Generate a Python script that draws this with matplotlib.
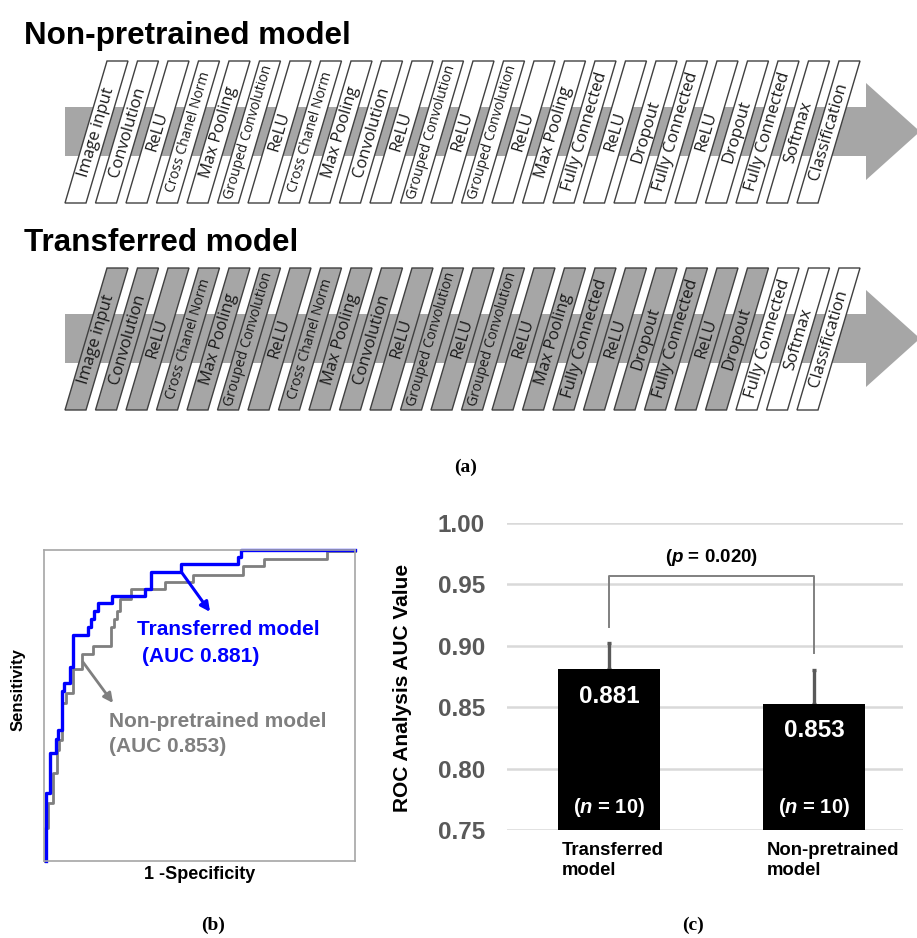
import matplotlib.pyplot as plt
from matplotlib.patches import Polygon, Rectangle

plt.rcParams['font.family'] = 'Liberation Sans'
plt.rcParams['mathtext.fontset'] = 'custom'
plt.rcParams['mathtext.it'] = 'Liberation Sans:italic:bold'
plt.rcParams['mathtext.rm'] = 'Liberation Sans:bold'

# --- data ---
layers = ['Image input', 'Convolution', 'ReLU', 'Cross Chanel Norm', 'Max Pooling',
          'Grouped Convolution', 'ReLU', 'Cross Chanel Norm', 'Max Pooling', 'Convolution',
          'ReLU', 'Grouped Convolution', 'ReLU', 'Grouped Convolution', 'ReLU',
          'Max Pooling', 'Fully Connected', 'ReLU', 'Dropout', 'Fully Connected',
          'ReLU', 'Dropout', 'Fully Connected', 'Softmax', 'Classification']
n_transferred = 22  # layers copied from the pretrained net (gray)

# ROC step curves (1 - specificity, sensitivity)
blue_fpr = [0.006, 0.006, 0.019, 0.037, 0.046, 0.057, 0.064, 0.083, 0.094, 0.142,
            0.150, 0.160, 0.174, 0.220, 0.324, 0.345, 0.441, 0.623, 0.634, 1.0]
blue_tpr = [0.0, 0.218, 0.347, 0.392, 0.420, 0.546, 0.573, 0.625, 0.726, 0.751,
            0.777, 0.804, 0.831, 0.853, 0.876, 0.930, 0.955, 0.977, 1.0, 1.0]
gray_fpr = [0.003, 0.003, 0.014, 0.030, 0.041, 0.049, 0.057, 0.071, 0.094, 0.121,
            0.158, 0.215, 0.224, 0.235, 0.244, 0.281, 0.388, 0.479, 0.639, 0.708,
            0.911, 1.0]
gray_tpr = [0.0, 0.105, 0.186, 0.283, 0.358, 0.390, 0.509, 0.541, 0.616, 0.665,
            0.691, 0.751, 0.777, 0.804, 0.842, 0.874, 0.896, 0.920, 0.947, 0.972,
            0.998, 0.998]

models = ['Transferred\nmodel', 'Non-pretrained\nmodel']
auc_mean = [0.881, 0.853]
auc_err = [0.021, 0.027]
n_runs = [10, 10]
p_value = 0.020

fig = plt.figure(figsize=(9.17, 9.38), dpi=100)

# pixel canvas for the network diagram and captions
canvas = fig.add_axes([0, 0, 1, 1])
canvas.set_xlim(0, 917)
canvas.set_ylim(938, 0)
canvas.axis('off')

band = '#a6a6a6'
pitch, box_w, slant, box_h = 30.5, 21, 42, 142


def draw_network(top, title, n_gray):
    canvas.text(24, top - 17, title, fontsize=22.6, fontweight='bold', va='baseline')
    canvas.add_patch(Rectangle((65, top + 46), 801, 49, color=band, lw=0))
    canvas.add_patch(Polygon([(866, top + 22), (920, top + 70.5), (866, top + 119)],
                             closed=True, color=band, lw=0))
    for i, name in enumerate(layers):
        x = 107 + pitch * i
        face = band if i < n_gray else 'white'
        canvas.add_patch(Polygon([(x, top), (x + box_w, top),
                                  (x + box_w - slant, top + box_h), (x - slant, top + box_h)],
                                 closed=True, facecolor=face, edgecolor='#404040', lw=1))
        size = 10 if len(name) > 15 else 12
        canvas.text(x + box_w / 2 - slant / 2, top + box_h / 2, name, family='Open Sans',
                    fontsize=size, rotation=73.5, rotation_mode='anchor',
                    ha='center', va='center', color='#1a1a1a')


draw_network(61, 'Non-pretrained model', 0)
draw_network(268, 'Transferred model', n_transferred)

cap = dict(family='Liberation Serif', fontsize=14, fontweight='bold', ha='center', va='center')
canvas.text(466, 467, '(a)', **cap)
canvas.text(213, 925, '(b)', **cap)
canvas.text(693, 925, '(c)', **cap)

# --- (b) ROC curves ---
ax1 = fig.add_axes([44 / 917, 77 / 938, 311 / 917, 311 / 938])
ax1.plot(gray_fpr, gray_tpr, drawstyle='steps-post', color='#7f7f7f', lw=2, clip_on=False)
ax1.plot(blue_fpr, blue_tpr, drawstyle='steps-post', color='#0000ff', lw=2.4, clip_on=False)
ax1.set_xlim(0, 1)
ax1.set_ylim(0, 1)
ax1.set_xticks([])
ax1.set_yticks([])
for s in ax1.spines.values():
    s.set_color('#a6a6a6')
    s.set_linewidth(1.2)
ax1.text(0.5, -0.045, '1 -Specificity', transform=ax1.transAxes, ha='center', va='center',
         fontsize=13, fontweight='bold')
ax1.text(-0.083, 0.55, 'Sensitivity', transform=ax1.transAxes, ha='center', va='center',
         rotation=90, fontsize=12, fontweight='bold')
ax1.annotate('', xy=(0.534, 0.801), xytext=(0.444, 0.926),
             arrowprops=dict(arrowstyle='-|>', color='#0000ff', lw=2.2, mutation_scale=14,
                             shrinkA=0, shrinkB=0))
ax1.annotate('', xy=(0.222, 0.508), xytext=(0.125, 0.640),
             arrowprops=dict(arrowstyle='-|>', color='#7f7f7f', lw=2, mutation_scale=14,
                             shrinkA=0, shrinkB=0))
ax1.text(0.299, 0.743, 'Transferred model', color='#0000ff', fontsize=15,
         fontweight='bold', va='center')
ax1.text(0.315, 0.656, '(AUC %.3f)' % auc_mean[0], color='#0000ff', fontsize=15,
         fontweight='bold', va='center')
ax1.text(0.209, 0.450, 'Non-pretrained model', color='#7f7f7f', fontsize=15,
         fontweight='bold', va='center')
ax1.text(0.209, 0.367, '(AUC %.3f)' % auc_mean[1], color='#7f7f7f', fontsize=15,
         fontweight='bold', va='center')

# --- (c) AUC bar chart ---
ax2 = fig.add_axes([507 / 917, 108 / 938, 396 / 917, 307 / 938])
pos = [0, 1]
ax2.bar(pos, [m - 0.75 for m in auc_mean], bottom=0.75, width=0.5, color='black', zorder=3)
ax2.errorbar(pos, auc_mean, yerr=[[0, 0], auc_err], fmt='none', ecolor='#595959',
             elinewidth=2.4, capsize=1.5, capthick=2.4, zorder=2)
ax2.set_xlim(-0.4976, 1.434)
ax2.set_ylim(0.75, 1.0)
ax2.set_yticks([0.75, 0.80, 0.85, 0.90, 0.95, 1.00])
ax2.set_yticklabels(['%.2f' % v for v in ax2.get_yticks()], fontweight='bold')
ax2.tick_params(axis='y', length=0, pad=16, labelsize=17.5, labelcolor='#595959')
ax2.set_xticks([])
ax2.grid(axis='y', color='#d9d9d9', lw=1.8)
ax2.set_axisbelow(True)
for s in ax2.spines.values():
    s.set_visible(False)
ax2.text(-0.263, 0.4625, 'ROC Analysis AUC Value', transform=ax2.transAxes, rotation=90,
         ha='center', va='center', fontsize=15, fontweight='bold')

for p, m, n, lab in zip(pos, auc_mean, n_runs, models):
    ax2.text(p, m - 0.022, '%.3f' % m, color='white', fontsize=17.5, fontweight='bold',
             ha='center', va='center', zorder=4)
    ax2.text(p, 0.768, '($\\it{n}$ = %d)' % n, color='white', fontsize=14.5,
             fontweight='bold', ha='center', va='center', zorder=4)
    ax2.text(p - 0.23, -0.04, lab, transform=ax2.get_xaxis_transform(), ha='left', va='top',
             fontsize=13.3, fontweight='bold', linespacing=1.2)

# significance bracket
ax2.plot([0, 0, 1, 1], [0.915, 0.957, 0.957, 0.894], color='#808080', lw=1.4, zorder=2)
ax2.text(0.5, 0.9715, '($\\it{p}$ = %.3f)' % p_value, ha='center', va='center',
         fontsize=13.5, fontweight='bold')

fig.savefig('out.png', dpi=100)
